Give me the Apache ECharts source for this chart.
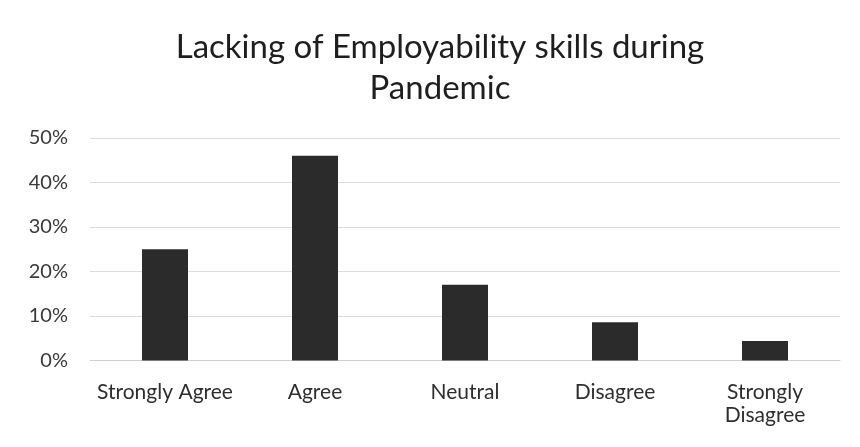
<!DOCTYPE html>
<html>
<head>
<meta charset="utf-8">
<script src="https://cdn.jsdelivr.net/npm/echarts@6/dist/echarts.min.js"></script>
<style>
  html, body { margin: 0; padding: 0; background: #ffffff; }
  #chart { width: 860px; height: 447px; }
</style>
</head>
<body>
<div id="chart"></div>
<script>
// Survey responses: share of respondents per answer
const categories = ['Strongly Agree', 'Agree', 'Neutral', 'Disagree', 'Strongly\nDisagree'];
const shares = [25, 46, 17, 8.6, 4.4];
const yTicks = { min: 0, max: 50, interval: 10 };
const titleText = 'Lacking of Employability skills during\nPandemic';

const chart = echarts.init(document.getElementById('chart'), null, { renderer: 'canvas' });
chart.setOption({
  backgroundColor: '#ffffff',
  animation: false,
  title: {
    text: titleText,
    left: 435,
    top: 22,
    textAlign: 'center',
    textStyle: {
      fontFamily: 'Lato',
      fontSize: 33,
      fontWeight: 'normal',
      color: '#1e1e1e',
      lineHeight: 41
    }
  },
  grid: { left: 90, right: 20, top: 138, bottom: 86.5, containLabel: false },
  xAxis: {
    type: 'category',
    data: categories,
    axisLine: { show: true, lineStyle: { color: '#cfcfcf', width: 1 } },
    axisTick: { show: false },
    axisLabel: {
      color: '#2e2e2e',
      fontFamily: 'Lato',
      fontSize: 21,
      lineHeight: 23,
      margin: 20,
      interval: 0
    }
  },
  yAxis: {
    type: 'value',
    min: yTicks.min,
    max: yTicks.max,
    interval: yTicks.interval,
    axisLine: { show: false },
    axisTick: { show: false },
    axisLabel: {
      formatter: '{value}%',
      color: '#3a3a3a',
      fontFamily: 'Lato',
      fontSize: 20,
      margin: 22
    },
    splitLine: { lineStyle: { color: '#dcdcdc', width: 1 } }
  },
  series: [{
    type: 'bar',
    data: shares,
    barWidth: 46,
    itemStyle: { color: '#2b2b2b' }
  }]
});
</script>
</body>
</html>
